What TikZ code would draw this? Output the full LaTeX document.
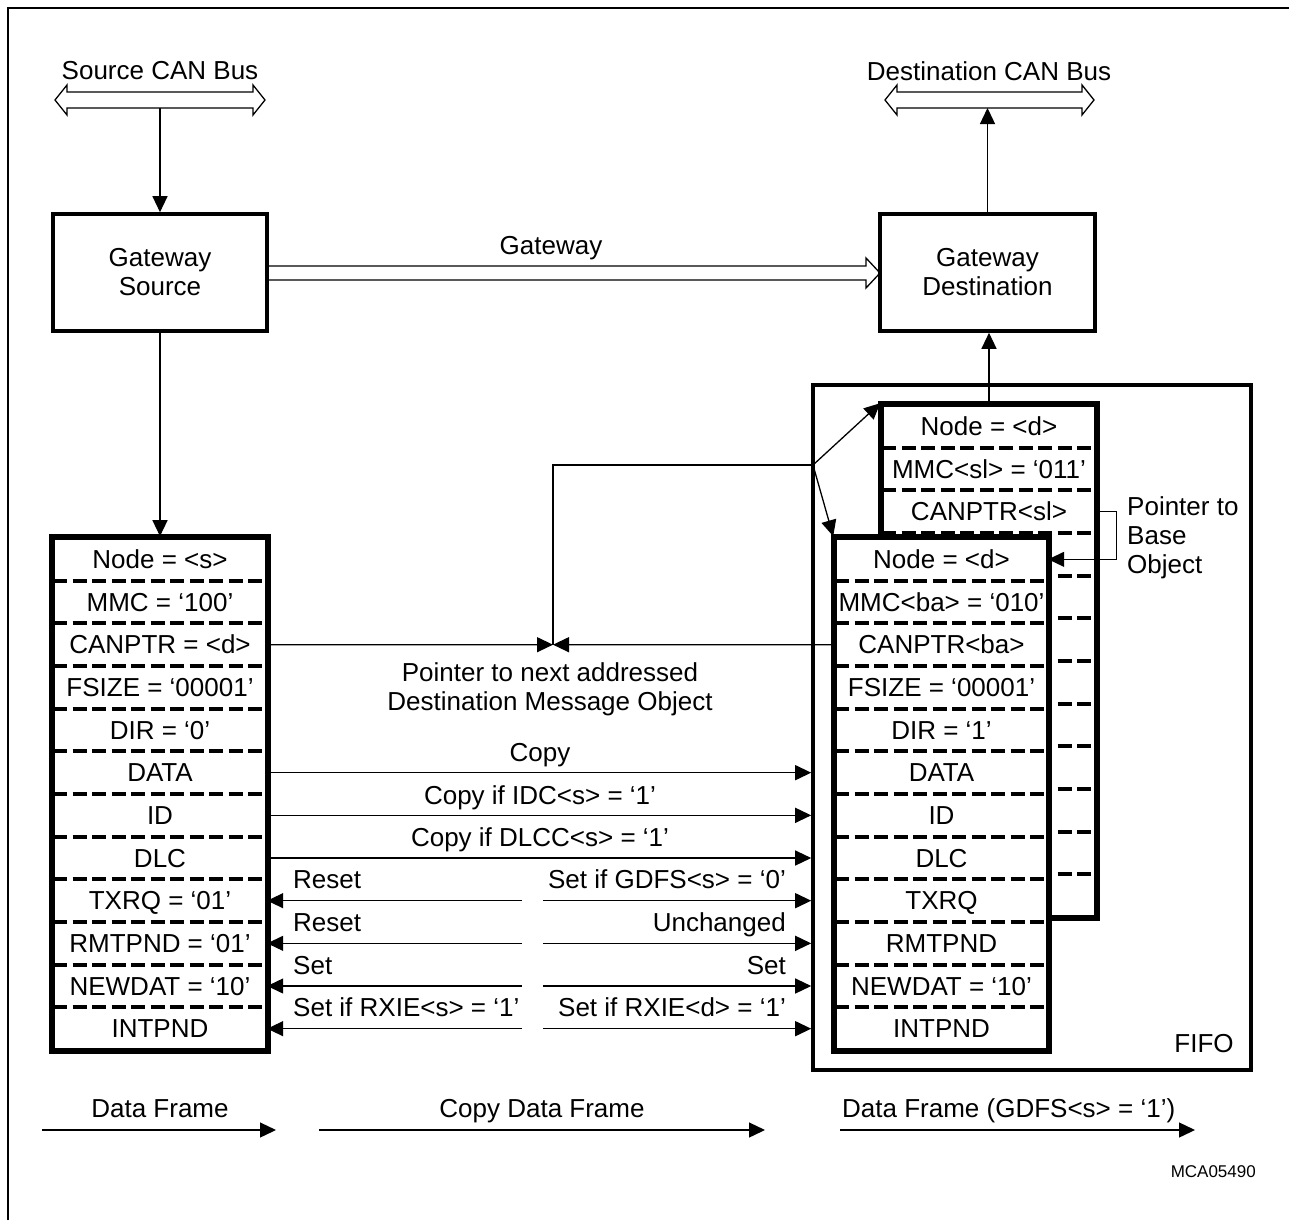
\documentclass[tikz,border=0pt]{standalone}
\usepackage{fontspec}
\setmainfont{Liberation Sans}
\usetikzlibrary{arrows.meta}
\begin{document}
\begin{tikzpicture}[x=1pt,y=-1pt,
  every node/.style={font=\fontsize{26}{29}\selectfont, inner sep=0pt},
  thinln/.style={line width=1.3pt},
  thickbox/.style={line width=3.6pt},
  divider/.style={line width=4pt, dash pattern=on 14pt off 5.5pt},
  arr/.style={thinln, -{Triangle[length=16pt,width=15pt]}},
  lbl/.style={text height=18.6pt, text depth=0pt},
  rowc/.style={lbl, minimum height=42.667pt, minimum width=#1},
  listbox/.style={draw, thickbox, fill=white, minimum height=512pt, minimum width=#1},
  ]
\useasboundingbox (0,0) rectangle (1289,1220);
% outer frame (top and left)
\draw[thinln] (8,1220) -- (8,8) -- (1289,8);

% CAN buses
\draw[thinln, line join=miter] (55,100) -- (67,85) -- (67,92) -- (253,92) -- (253,85) -- (265,100) -- (253,115) -- (253,108) -- (67,108) -- (67,115) -- cycle;
\draw[thinln, line join=miter] (885,100) -- (897,85) -- (897,92) -- (1082,92) -- (1082,85) -- (1094,100) -- (1082,115) -- (1082,108) -- (897,108) -- (897,115) -- cycle;
\node[lbl] (srclbl) at (160,70) {Source CAN Bus};
\node[lbl] (dstlbl) at (989,71) {Destination CAN Bus};
\coordinate (srcbusb) at (160,108);

% gateway boxes
\node[draw, thickbox, minimum width=214pt, minimum height=117pt, align=center] (gs) at (160,272.5) {Gateway\\Source};
\node[draw, thickbox, minimum width=215pt, minimum height=117pt, align=center] (gd) at (987.5,272.5) {Gateway\\Destination};
\coordinate (dstbusb) at (987.5,108);
\draw[arr] (srcbusb) -- (gs.north);
\draw[arr] (gd.north) -- (dstbusb);

% gateway hollow arrow
\draw[thinln, line join=miter] (267,266) -- (866,266) -- (866,258) -- (880,273) -- (866,288) -- (866,280) -- (267,280);
\node[lbl] (gwlbl) at (551,245) {Gateway};

% FIFO
\node[draw, thickbox, minimum width=438pt, minimum height=685pt] (fifo) at (1032,727.5) {};
\node[lbl] (fifolbl) at (1204,1043) {FIFO};

% back list
\node[listbox=214pt] (bbox) at (989,661) {};
\foreach \i/\t in {1/{Node = <d>},2/{MMC<sl> = ‘011’},3/{CANPTR<sl>},4/{},5/{},6/{},7/{},8/{},9/{},10/{},11/{},12/{}}
  \node[rowc=214pt] (b\i) at (989,{405+(\i-0.5)*42.667}) {\t};
\foreach \i in {1,...,11}
  \draw[divider] (882,{405+\i*42.667}) -- (1096,{405+\i*42.667});
\draw[thickbox] (bbox.north west) rectangle (bbox.south east);

% front list
\node[listbox=213pt] (fbox) at (941.5,794) {};
\foreach \i/\t in {1/{Node = <d>},2/{MMC<ba> = ‘010’},3/{CANPTR<ba>},4/{FSIZE = ‘00001’},5/{DIR = ‘1’},6/{DATA},7/{ID},8/{DLC},9/{TXRQ},10/{RMTPND},11/{NEWDAT = ‘10’},12/{INTPND}}
  \node[rowc=213pt] (f\i) at (941.5,{538+(\i-0.5)*42.667}) {\t};
\foreach \i in {1,...,11}
  \draw[divider] (835,{538+\i*42.667}) -- (1048,{538+\i*42.667});
\draw[thickbox] (fbox.north west) rectangle (fbox.south east);

% source list
\node[listbox=214pt] (sbox) at (160,794) {};
\foreach \i/\t in {1/{Node = <s>},2/{MMC = ‘100’},3/{CANPTR = <d>},4/{FSIZE = ‘00001’},5/{DIR = ‘0’},6/{DATA},7/{ID},8/{DLC},9/{TXRQ = ‘01’},10/{RMTPND = ‘01’},11/{NEWDAT = ‘10’},12/{INTPND}}
  \node[rowc=214pt] (s\i) at (160,{538+(\i-0.5)*42.667}) {\t};
\foreach \i in {1,...,11}
  \draw[divider] (53,{538+\i*42.667}) -- (267,{538+\i*42.667});
\draw[thickbox] (sbox.north west) rectangle (sbox.south east);

% vertical connectors
\draw[arr] (gs.south) -- (sbox.north);
\draw[arr] (bbox.north) -- (bbox.north |- gd.south);

% pointer to next addressed destination
\coordinate (meet) at (553,644.7);
\coordinate (jn) at (813,465);
\draw[arr] (s3.east) -- (meet);
\draw[arr] (f3.west) -- (meet);
\draw[thinln] (meet) -- (meet |- jn) -- (jn);
\draw[arr] (jn) -- (bbox.north west);
\draw[arr] (jn) -- (fbox.north west);
\node[align=center] (ptrlbl) at (550,689) {Pointer to next addressed\\Destination Message Object};

% pointer to base object
\draw[arr] (b3.east) -- ++(20,0) |- (f1.east);
\node[align=left, anchor=west] (baselbl) at (1127,538) {Pointer to\\Base\\Object};

% copy arrows
\draw[arr] (s6.east) -- (s6.east -| fifo.west);
\draw[arr] (s7.east) -- (s7.east -| fifo.west);
\draw[arr] (s8.east) -- (s8.east -| fifo.west);
\node[lbl] (lcopy) at (540,752) {Copy};
\node[lbl] (lidc) at (540,795) {Copy if IDC<s> = ‘1’};
\node[lbl] (ldlcc) at (540,837) {Copy if DLCC<s> = ‘1’};

% status arrows
\foreach \i/\l/\r in {9/{Reset}/{Set if GDFS<s> = ‘0’},10/{Reset}/{Unchanged},11/{Set}/{Set},12/{Set if RXIE<s> = ‘1’}/{Set if RXIE<d> = ‘1’}}{
  \coordinate (ml\i) at (522,{538+(\i-0.5)*42.667});
  \coordinate (mr\i) at (543,{538+(\i-0.5)*42.667});
  \draw[arr] (ml\i) -- (s\i.east);
  \draw[arr] (mr\i) -- (mr\i -| fifo.west);
  \node[lbl, anchor=west] (ll\i) at (293,{538+(\i-0.5)*42.667-21}) {\l};
  \node[lbl, anchor=east] (rl\i) at (786,{538+(\i-0.5)*42.667-21}) {\r};
}

% legend
\coordinate (la1) at (42,1130);  \coordinate (lb1) at (276,1130);
\coordinate (la2) at (319,1130); \coordinate (lb2) at (765,1130);
\coordinate (la3) at (840,1130); \coordinate (lb3) at (1195,1130);
\draw[arr] (la1) -- (lb1);
\draw[arr] (la2) -- (lb2);
\draw[arr] (la3) -- (lb3);
\node[lbl] (lg1) at (160,1108) {Data Frame};
\node[lbl] (lg2) at (542,1108) {Copy Data Frame};
\node[lbl, anchor=west] (lg3) at (842,1108) {Data Frame (GDFS<s> = ‘1’)};
\node[anchor=east, font=\fontsize{17}{20}\selectfont, text height=12.2pt, text depth=0pt] (mca) at (1256,1171) {MCA05490};
\end{tikzpicture}
\end{document}
